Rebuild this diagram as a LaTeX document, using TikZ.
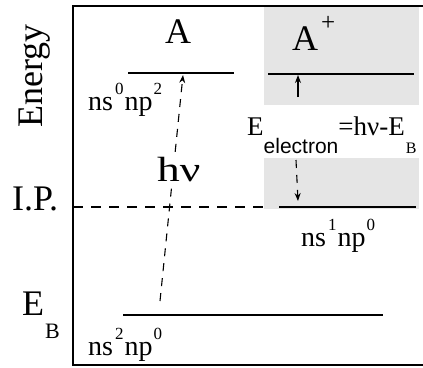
\documentclass[tikz,border=0pt]{standalone}
\usepackage{fontspec}
\setmainfont{Liberation Serif}
\newfontfamily\sansf{Liberation Sans}
\usetikzlibrary{arrows.meta}
\newcommand\supf{\fontsize{17}{17}\selectfont}
\newcommand\conf[2]{ns\kern2pt\raisebox{16pt}{\supf #1}\kern1pt np\kern1pt\raisebox{16pt}{\supf #2}}
\begin{document}
\begin{tikzpicture}[x=1pt,y=-1pt,
  frame/.style={line width=1.5pt},
  level/.style={line width=1.3pt},
  biglevel/.style={line width=2.6pt},
  ipdash/.style={line width=1.2pt,dash pattern=on 10pt off 8pt},
  photon/.style={line width=1.1pt,dash pattern=on 8pt off 7pt,-{Stealth[length=8pt,width=6pt]}},
  elarrow/.style={line width=1.1pt,-{Stealth[length=8pt,width=6pt]}},
  shade/.style={fill=black!10,draw=none},
  big/.style={inner sep=0pt,anchor=base west,font=\fontsize{36}{36}\selectfont},
  mid/.style={inner sep=0pt,anchor=base west,font=\fontsize{28}{28}\selectfont},
  eq/.style={inner sep=0pt,anchor=base west,font=\fontsize{27}{27}\selectfont}]
\useasboundingbox (0,0) rectangle (423,367);
% shaded regions
\fill[shade] (264,6) rectangle (419,105);
\fill[shade] (264,158) rectangle (419,209);
% frame
\draw[frame] (430,6) -- (73,6) -- (73,365) -- (430,365);
% levels
\draw[biglevel] (128,73) -- (234,73);
\draw[level] (268,74) -- (414,74);
\draw[level] (279,207) -- (416,207);
\draw[level] (123,315) -- (383,315);
\draw[ipdash] (73,207) -- (264,207);
% labels
\node[big,rotate=90] (energy) at (42,128) {Energy};
\node[big] (ip) at (12,210) {I.P.};
\node[big] (eb) at (22,315) {E\kern1pt\raisebox{-23pt}{\fontsize{22}{22}\selectfont B}};
\node[big] (atom) at (165,43) {A};
\node[big] (ion) at (292,50) {A\kern3pt\raisebox{20pt}{\fontsize{25}{25}\selectfont +}};
\node[mid] (cfgA) at (88,110) {\conf{0}{2}};
\node[mid] (cfgG) at (88,355) {\conf{2}{0}};
\node[mid] (cfgI) at (301,246) {\conf{1}{0}};
\node[eq] (eel) at (247,135) {E\raisebox{-18pt}{\sansf\fontsize{21}{21}\selectfont electron}=hν-E\kern1pt\raisebox{-18pt}{\fontsize{16}{16}\selectfont B}};
% photon arrow
\coordinate (phs) at (160,301);
\coordinate (phe) at (183,75);
\draw[photon] (phs) -- (phe);
\node[big,fill=white,inner sep=1pt,font=\fontsize{35}{35}\selectfont] (hnu) at (156,181) {\scalebox{1.3}[1]{hν}};
% electron arrows
\coordinate (e1s) at (298,97);
\coordinate (e1e) at (298,75);
\draw[elarrow] (e1s) -- (e1e);
\coordinate (e2s) at (296,160);
\coordinate (e2e) at (298,201);
\draw[photon] (e2s) -- (e2e);
\end{tikzpicture}
\end{document}
